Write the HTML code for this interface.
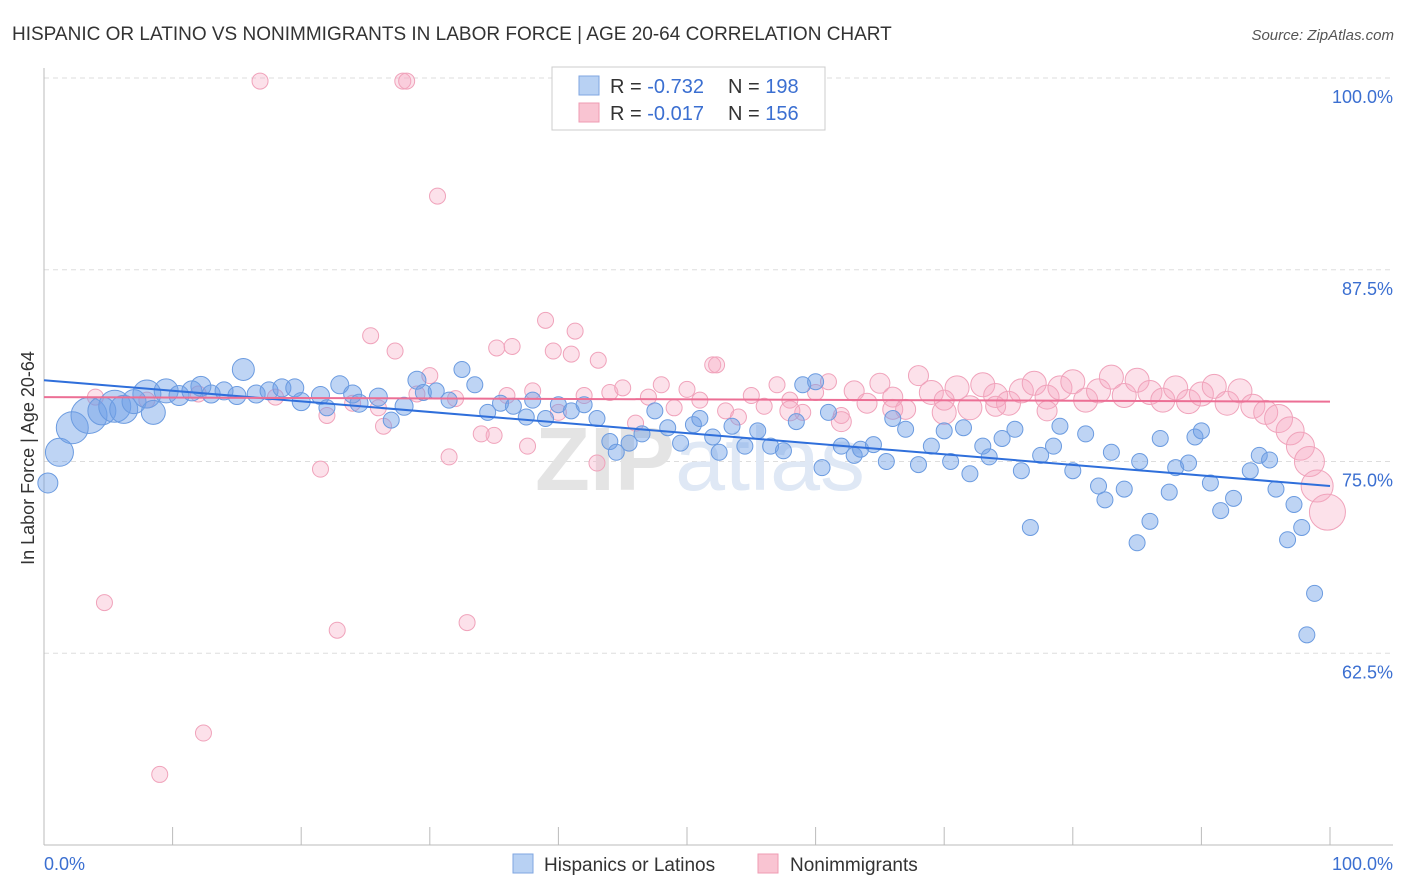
<!DOCTYPE html>
<html><head><meta charset="utf-8"><style>
body{margin:0;background:#fff;font-family:"Liberation Sans",sans-serif;}
#wrap{position:relative;width:1406px;height:892px;overflow:hidden}
</style></head><body>
<div id="wrap">
<svg id="svg" width="1406" height="892" xmlns="http://www.w3.org/2000/svg">
<text x="12" y="40" font-size="19" fill="#333">HISPANIC OR LATINO VS NONIMMIGRANTS IN LABOR FORCE | AGE 20-64 CORRELATION CHART</text>
<text x="1394" y="40" font-size="15" fill="#555" font-style="italic" text-anchor="end">Source: ZipAtlas.com</text>
<text x="34" y="458" font-size="18" fill="#333" text-anchor="middle" transform="rotate(-90 34 458)">In Labor Force | Age 20-64</text>
<g id="grid"></g>
<text x="700" y="490" font-size="90" font-weight="bold" fill="#e4e4e4" text-anchor="middle">ZIP<tspan fill="#dfe8f5" font-weight="normal">atlas</tspan></text>
<g id="marks"></g>
<g>
<rect x="552" y="67" width="273" height="63" fill="#fff" stroke="#ccc"/>
<rect x="579" y="76" width="20" height="19" fill="#b8d1f3" stroke="#7fa6e0"/>
<rect x="579" y="103" width="20" height="19" fill="#f9c4d2" stroke="#ef9bb3"/>
<text x="610" y="93" font-size="20" fill="#333">R = <tspan fill="#3b6fd1">-0.732</tspan><tspan x="728">N = </tspan><tspan fill="#3b6fd1">198</tspan></text>
<text x="610" y="120" font-size="20" fill="#333">R = <tspan fill="#3b6fd1">-0.017</tspan><tspan x="728">N = </tspan><tspan fill="#3b6fd1">156</tspan></text>
</g>
<g>
<rect x="513" y="854" width="20" height="19" fill="#b8d1f3" stroke="#7fa6e0"/>
<text x="544" y="871" font-size="19" fill="#333">Hispanics or Latinos</text>
<rect x="758" y="854" width="20" height="19" fill="#f9c4d2" stroke="#ef9bb3"/>
<text x="790" y="871" font-size="19" fill="#333">Nonimmigrants</text>
</g>
</svg></div>
<script>
const yTicks=[100,87.5,75,62.5];
const yTickLabels=["100.0%","87.5%","75.0%","62.5%"];
const xTickLabels=["0.0%","100.0%"];
const blueX=[0.3,1.2,2.2,3.5,4.5,5.5,6.2,7,8,8.5,
9.5,10.5,11.5,12.2,13,14,15,15.5,16.5,17.5,
18.5,19.5,20,21.5,22,23,24,24.5,26,27,
28,29,29.5,30.5,31.5,32.5,33.5,34.5,35.5,36.5,
37.5,38,39,40,41,42,43,44,44.5,45.5,
46.5,47.5,48.5,49.5,50.5,51,52,52.5,53.5,54.5,
55.5,56.5,57.5,58.5,59,60,60.5,61,62,63,
63.5,64.5,65.5,66,67,68,69,70,70.5,71.5,
72,73,73.5,74.5,75.5,76,76.7,77.5,78.5,79,
80,81,82,82.5,83,84,85,85.2,86,86.8,
87.5,88,89,89.5,90,90.7,91.5,92.5,93.8,94.5,
95.3,95.8,96.7,97.2,97.8,98.2,98.8];
const blueY=[73.6,75.6,77.2,78.0,78.3,78.6,78.4,78.9,79.4,78.2,
79.6,79.3,79.6,79.9,79.4,79.6,79.3,81.0,79.4,79.6,
79.8,79.8,78.9,79.3,78.5,80.0,79.4,78.8,79.2,77.7,
78.6,80.3,79.5,79.6,79.0,81.0,80.0,78.2,78.8,78.6,
77.9,79.0,77.8,78.7,78.3,78.7,77.8,76.3,75.6,76.2,
76.8,78.3,77.2,76.2,77.4,77.8,76.6,75.6,77.3,76.0,
77.0,76.0,75.7,77.6,80.0,80.2,74.6,78.2,76.0,75.4,
75.8,76.1,75.0,77.8,77.1,74.8,76.0,77.0,75.0,77.2,
74.2,76.0,75.3,76.5,77.1,74.4,70.7,75.4,76.0,77.3,
74.4,76.8,73.4,72.5,75.6,73.2,69.7,75.0,71.1,76.5,
73.0,74.6,74.9,76.6,77.0,73.6,71.8,72.6,74.4,75.4,
75.1,73.2,69.9,72.2,70.7,63.7,66.4];
const blueR=[10,14,16,18,14,16,14,12,14,12,
12,10,10,10,9,9,9,11,9,9,
9,9,9,9,8,9,9,9,9,8,
9,9,8,8,8,8,8,8,8,8,
8,8,8,8,8,8,8,8,8,8,
8,8,8,8,8,8,8,8,8,8,
8,8,8,8,8,8,8,8,8,8,
8,8,8,8,8,8,8,8,8,8,
8,8,8,8,8,8,8,8,8,8,
8,8,8,8,8,8,8,8,8,8,
8,8,8,8,8,8,8,8,8,8,
8,8,8,8,8,8,8];
const pinkX=[16.8,27.9,28.2,30.6,4.7,22.8,32.9,12.4,9,21.5,
31.5,25.4,27.3,35.2,36.4,39,41.3,39.6,41,43.1,
52,52.3,37.6,43,35,26.4,4,8,12,18,
22,24,26,29,30,32,34,36,38,40,
42,44,45,46,47,48,49,50,51,53,
54,55,56,57,58,59,60,61,62,63,
64,65,66,67,68,69,70,71,72,73,
74,75,76,77,78,79,80,81,82,83,
84,85,86,87,88,89,90,91,92,93,
94,95,96,96.9,97.7,98.4,99,99.8,58,62,
66,70,74,78];
const pinkY=[99.8,99.8,99.8,92.3,65.8,64.0,64.5,57.3,54.6,74.5,
75.3,83.2,82.2,82.4,82.5,84.2,83.5,82.2,82.0,81.6,
81.3,81.3,76.0,74.9,76.7,77.3,79.2,79.0,79.4,79.2,
78.0,78.8,78.5,79.4,80.6,79.1,76.8,79.3,79.6,78.2,
79.3,79.5,79.8,77.5,79.2,80.0,78.5,79.7,79.0,78.3,
77.9,79.3,78.6,80.0,79.0,78.2,79.5,80.2,78.0,79.6,
78.8,80.1,79.2,78.4,80.6,79.5,78.2,79.8,78.5,80.0,
79.3,78.8,79.6,80.1,79.2,79.8,80.2,79.0,79.6,80.5,
79.3,80.3,79.5,79.0,79.8,78.9,79.4,79.9,78.8,79.6,
78.6,78.2,77.8,77.0,76.0,75.0,73.4,71.7,78.3,77.6,
78.4,79.0,78.6,78.3];
const pinkR=[8,8,8,8,8,8,8,8,8,8,
8,8,8,8,8,8,8,8,8,8,
8,8,8,8,8,8,8,8,8,8,
8,8,8,8,8,8,8,8,8,8,
8,8,8,8,8,8,8,8,8,8,
8,8,8,8,8,8,8,8,8,10,
10,10,10,10,10,12,12,12,12,12,
12,12,12,12,12,12,12,12,12,12,
12,12,12,12,12,12,12,12,12,12,
12,12,14,14,14,15,16,18,10,10,
10,10,10,10];
const blueTrend=[80.3,73.4];
const pinkTrend=[79.2,78.9];
const X0=44,X1=1330,YB=845,Y100=78;
const sx=v=>X0+(X1-X0)*v/100;
const sy=v=>YB-(YB-Y100)*(v-50)/50;
const NS='http://www.w3.org/2000/svg';
function mk(tag,attrs,parent){const e=document.createElementNS(NS,tag);for(const k in attrs)e.setAttribute(k,attrs[k]);parent.appendChild(e);return e;}
const grid=document.getElementById('grid');
yTicks.forEach((t,i)=>{
 const l=mk('line',{x1:X0,x2:1393,y1:sy(t),y2:sy(t),stroke:'#ddd','stroke-dasharray':'5,4'},grid);
 
 
 const tx=mk('text',{x:1393,y:sy(t)+25,'font-size':18,fill:'#3b6fd1','text-anchor':'end'},grid);
 tx.textContent=yTickLabels[i];
 
 
});
const ax=mk('line',{x1:X0,x2:1393,y1:YB,y2:YB,stroke:'#bbb'},grid);


const ay=mk('line',{x1:X0,x2:X0,y1:68,y2:YB,stroke:'#bbb'},grid);


for(let i=0;i<=10;i++){
 const tk=mk('line',{x1:sx(i*10),x2:sx(i*10),y1:YB,y2:YB-18,stroke:'#bbb'},grid);
 
 
}
const xl0=mk('text',{x:44,y:870,'font-size':18,fill:'#3b6fd1'},grid);xl0.textContent=xTickLabels[0];


const xl1=mk('text',{x:1393,y:870,'font-size':18,fill:'#3b6fd1','text-anchor':'end'},grid);xl1.textContent=xTickLabels[1];


const marks=document.getElementById('marks');
pinkX.forEach((x,i)=>{
 const c=mk('circle',{cx:sx(x),cy:sy(pinkY[i]),r:pinkR[i],fill:'rgba(246,170,195,0.35)',stroke:'#f0a3bb','stroke-width':1},marks);
 
 
});
blueX.forEach((x,i)=>{
 const c=mk('circle',{cx:sx(x),cy:sy(blueY[i]),r:blueR[i],fill:'rgba(110,160,230,0.45)',stroke:'#6b9be0','stroke-width':1},marks);
 
 
});
const bt=mk('line',{x1:sx(0),y1:sy(blueTrend[0]),x2:sx(100),y2:sy(blueTrend[1]),stroke:'#2f6fdb','stroke-width':2},marks);


const pt=mk('line',{x1:sx(0),y1:sy(pinkTrend[0]),x2:sx(100),y2:sy(pinkTrend[1]),stroke:'#ec6f95','stroke-width':2},marks);


</script>
</body></html>
